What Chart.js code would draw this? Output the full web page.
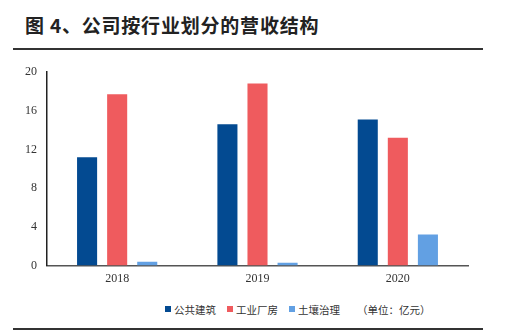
<!DOCTYPE html>
<html lang="zh">
<head>
<meta charset="UTF-8">
<title>公司按行业划分的营收结构</title>
<script src="https://cdn.jsdelivr.net/npm/chart.js"></script>
<style>
  html, body { margin: 0; padding: 0; background: #fff; }
  #page { position: relative; width: 507px; height: 332px; overflow: hidden; }
  #title {
    position: absolute; left: 25px; top: 12px;
    font-family: "Noto Sans CJK SC", sans-serif; font-weight: bold;
    font-size: 19px; letter-spacing: 0.8px; line-height: 26px; color: #222; white-space: nowrap;
  }
  .rule { position: absolute; left: 13px; width: 470px; height: 2px; background: #333; }
  #chartBox { position: absolute; left: 0; top: 0; width: 507px; height: 300px; }
  #legend {
    position: absolute; left: 165px; top: 300px; height: 18px;
    font-family: "Noto Sans CJK SC", sans-serif; font-size: 10.5px; color: #333;
    display: flex; align-items: center; white-space: nowrap;
  }
  #legend .item { display: flex; align-items: center; margin-right: 11px; }
  #legend .box { width: 6px; height: 6px; margin-right: 3px; }
  #legend .unit { margin-left: 6px; }
</style>
</head>
<body>
<div id="page">
  <div id="title">图 4、公司按行业划分的营收结构</div>
  <div class="rule" style="top:48px"></div>
  <div id="chartBox"><canvas id="revChart"></canvas></div>
  <div id="legend"></div>
  <div class="rule" style="top:328px"></div>
</div>

<script>
  // 年份与各行业营收（亿元）
  const years = ['2018', '2019', '2020'];
  const publicBuilding = [11.2, 14.6, 15.1];
  const industrialPlant = [17.7, 18.8, 13.2];
  const soilRemediation = [0.4, 0.3, 3.2];
  const yTicks = [0, 4, 8, 12, 16, 20];

  const seriesNames = ['公共建筑', '工业厂房', '土壤治理'];
  const seriesColors = ['#034a91', '#ef5b5e', '#62a0e3'];
  const seriesData = [publicBuilding, industrialPlant, soilRemediation];

  const ctx = document.getElementById('revChart').getContext('2d');
  new Chart(ctx, {
    type: 'bar',
    data: {
      labels: years,
      datasets: seriesData.map((d, i) => ({
        label: seriesNames[i],
        data: d,
        backgroundColor: seriesColors[i],
        barPercentage: 0.667,
        categoryPercentage: 0.643
      }))
    },
    options: {
      responsive: true,
      maintainAspectRatio: false,
      animation: false,
      layout: { padding: { left: 0, right: 39, top: 72, bottom: 8 } },
      plugins: { legend: { display: false }, tooltip: { enabled: false } },
      scales: {
        x: {
          grid: { display: false, drawTicks: false },
          border: { color: '#555', width: 1.5 },
          ticks: {
            color: '#333', padding: 6,
            font: { family: 'Liberation Serif', size: 12 }
          }
        },
        y: {
          min: 0, max: 20,
          afterBuildTicks: axis => { axis.ticks = yTicks.map(v => ({ value: v })); },
          afterFit: axis => { axis.width = 47; },
          grid: { display: false, drawOnChartArea: false, drawTicks: true, tickLength: 3, color: '#222' },
          border: { color: '#222', width: 1.5 },
          ticks: {
            color: '#333', padding: 7,
            font: { family: 'Liberation Serif', size: 12 }
          }
        }
      }
    }
  });

  // 图例：色块 + 名称，最后附单位
  const legend = document.getElementById('legend');
  seriesNames.forEach((name, i) => {
    const item = document.createElement('span');
    item.className = 'item';
    item.innerHTML = '<span class="box" style="background:' + seriesColors[i] + '"></span>' + name;
    legend.appendChild(item);
  });
  const unit = document.createElement('span');
  unit.className = 'unit';
  unit.textContent = '（单位：亿元）';
  legend.appendChild(unit);
</script>
</body>
</html>
